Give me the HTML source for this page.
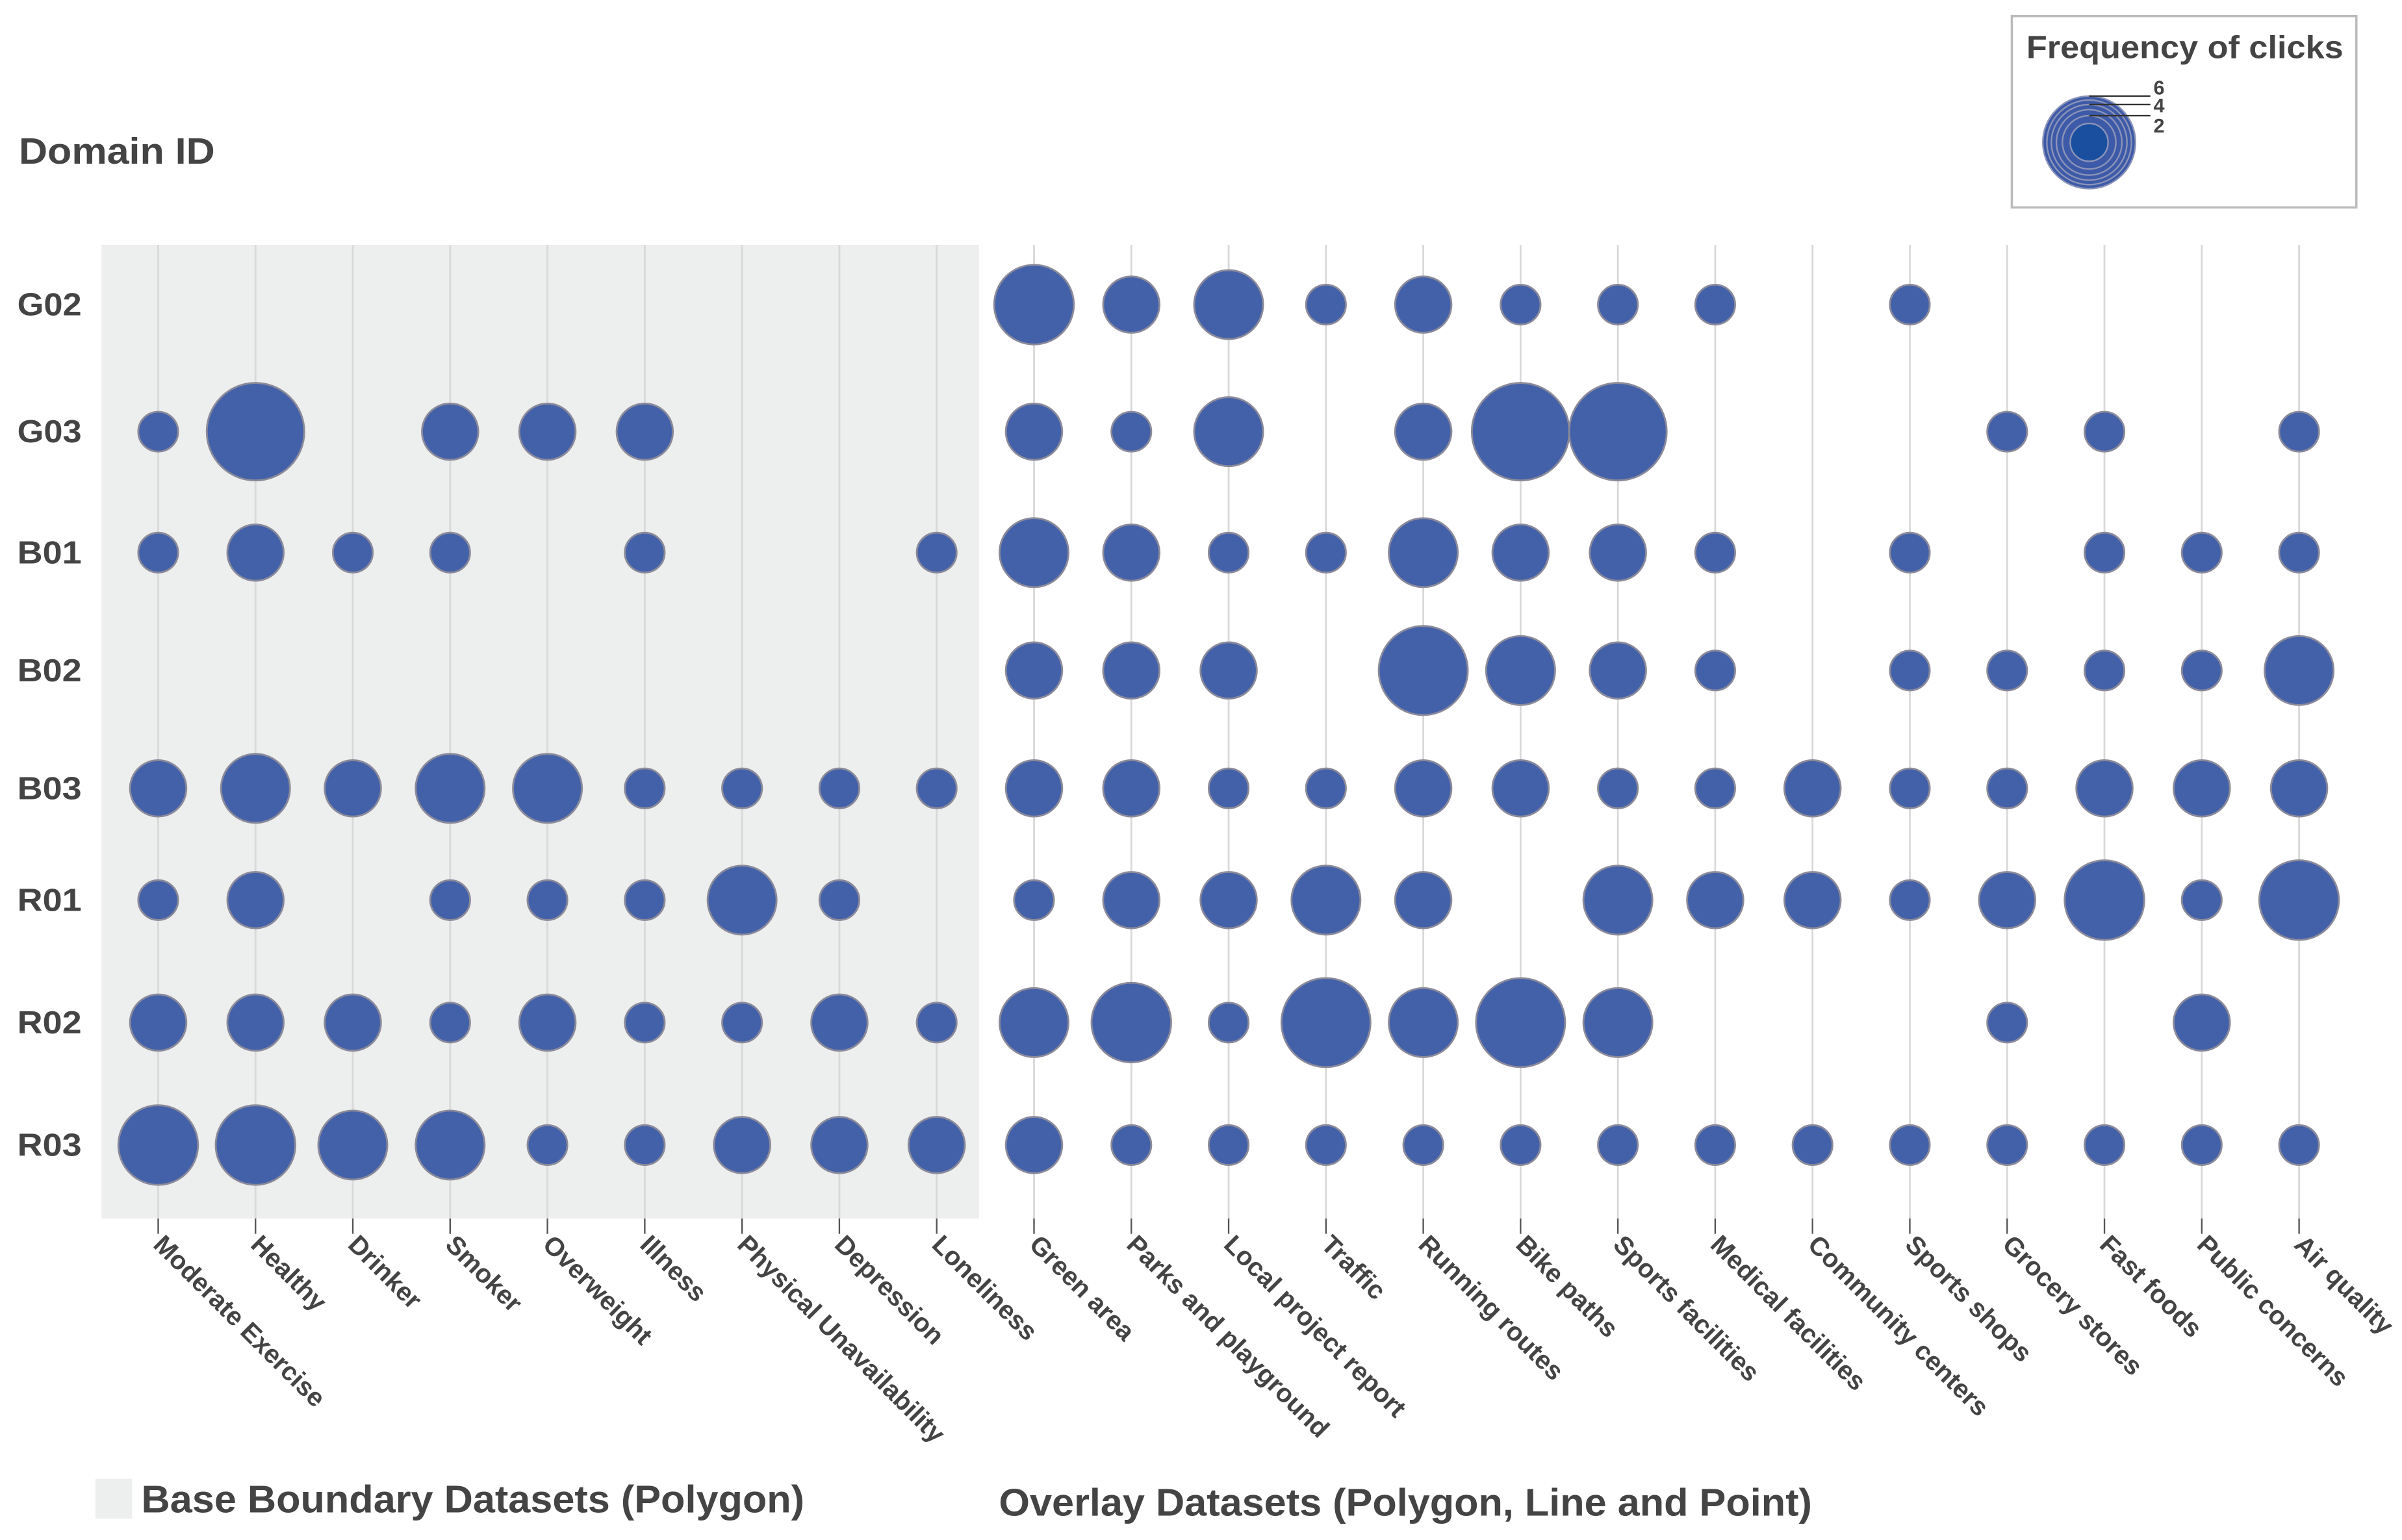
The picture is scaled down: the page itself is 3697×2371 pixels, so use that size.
<!DOCTYPE html>
<html><head><meta charset="utf-8"><style>
html,body{margin:0;padding:0;background:#fff;}
svg{display:block;}
text{font-family:"Liberation Sans",sans-serif;font-weight:bold;fill:#444;}
</style></head><body>
<svg id="chart" width="3697" height="2371" viewBox="0 0 1568 1006" xmlns="http://www.w3.org/2000/svg">
<rect x="66" y="160" width="573" height="636" fill="#edeeee"/>
<g id="grid"></g>
<g id="bubbles"></g>
<g id="xlabels"></g>
<g id="ylabels"></g>
<text x="12" y="107" font-size="24" textLength="128" lengthAdjust="spacingAndGlyphs">Domain ID</text>
<g>
<rect x="1313.5" y="10.5" width="225" height="125" fill="#fff" stroke="#bbb" stroke-width="1.5"/>
<text x="1323" y="38" font-size="21" textLength="207" lengthAdjust="spacingAndGlyphs">Frequency of clicks</text>
<g id="legendcircles"></g>
</g>
<rect x="62" y="966" width="24" height="26" fill="#edeeee"/>
<text x="92" y="988" font-size="25" textLength="433" lengthAdjust="spacingAndGlyphs">Base Boundary Datasets (Polygon)</text>
<text x="652" y="990" font-size="25" textLength="531" lengthAdjust="spacingAndGlyphs">Overlay Datasets (Polygon, Line and Point)</text>
</svg>
<script>
const categories=["Moderate Exercise","Healthy","Drinker","Smoker","Overweight","Illness","Physical Unavailability","Depression","Loneliness","Green area","Parks and playground","Local project report","Traffic","Running routes","Bike paths","Sports facilities","Medical facilities","Community centers","Sports shops","Grocery stores","Fast foods","Public concerns","Air quality"];
const domains=["G02","G03","B01","B02","B03","R01","R02","R03"];
const vG02=[0,0,0,0,0,0,0,0,0,4,2,3,1,2,1,1,1,0,1,0,0,0,0];
const vG03=[1,6,0,2,2,2,0,0,0,2,1,3,0,2,6,6,0,0,0,1,1,0,1];
const vB01=[1,2,1,1,0,1,0,0,1,3,2,1,1,3,2,2,1,0,1,0,1,1,1];
const vB02=[0,0,0,0,0,0,0,0,0,2,2,2,0,5,3,2,1,0,1,1,1,1,3];
const vB03=[2,3,2,3,3,1,1,1,1,2,2,1,1,2,2,1,1,2,1,1,2,2,2];
const vR01=[1,2,0,1,1,1,3,1,0,1,2,2,3,2,0,3,2,2,1,2,4,1,4];
const vR02=[2,2,2,1,2,1,1,2,1,3,4,1,5,3,5,3,0,0,0,1,0,2,0];
const vR03=[4,4,3,3,1,1,2,2,2,2,1,1,1,1,1,1,1,1,1,1,1,1,1];
const series=[vG02,vG03,vB01,vB02,vB03,vR01,vR02,vR03];
const legendValues=[6,5,4,3,2,1];
const legendTicks=[6,4,2];

const NS="http://www.w3.org/2000/svg";
const rowY=[199,282,361,438,515,588,668,748];
function xScale(i){return 103+i*63.55;}
function yScale(j){return rowY[j];}
function rScale(v){return 13*Math.sqrt(v);}
function mk(t,a){const e=document.createElementNS(NS,t);for(const k in a)e.setAttribute(k,a[k]);return e;}

const grid=document.getElementById('grid');
categories.forEach((c,i)=>{
  const x=xScale(i);
  const l=mk('line',{x1:x,x2:x,y1:160,y2:796,stroke:'#d9d9d9','stroke-width':1.2});
  
  
  grid.appendChild(l);
  const t=mk('line',{x1:x,x2:x,y1:796,y2:806,stroke:'#555','stroke-width':1});
  
  
  grid.appendChild(t);
});
const xl=document.getElementById('xlabels');
categories.forEach((c,i)=>{
  const x=xScale(i)-4,y=814;
  const t=mk('text',{x:x,y:y,'font-size':17,transform:`rotate(45 ${x} ${y})`});
  t.textContent=c;
  
  
  xl.appendChild(t);
});
const yl=document.getElementById('ylabels');
domains.forEach((d,j)=>{
  const t=mk('text',{x:11,y:yScale(j)+7,'font-size':21,textLength:42,lengthAdjust:'spacingAndGlyphs'});
  t.textContent=d;
  
  
  yl.appendChild(t);
});
const bg=document.getElementById('bubbles');
series.forEach((row,j)=>{
  row.forEach((v,i)=>{
    if(!v)return;
    const c=mk('circle',{cx:xScale(i),cy:yScale(j),r:rScale(v),fill:'#4361a9',stroke:'#8a8a9a','stroke-width':1.2});
    
    
    bg.appendChild(c);
  });
});
const lg=document.getElementById('legendcircles');
const lcx=1364,lcy=93;
legendValues.forEach(v=>{
  const c=mk('circle',{cx:lcx,cy:lcy,r:rScale(v)*0.95,fill:v===1?'#1a4fa0':'#3d5aa8',stroke:'#8c94b8','stroke-width':1});
  
  
  lg.appendChild(c);
});
legendTicks.forEach(v=>{
  const y=lcy-rScale(v)*0.95;
  const l=mk('line',{x1:lcx,x2:1404,y1:y,y2:y,stroke:'#333','stroke-width':1});
  
  
  lg.appendChild(l);
  const t=mk('text',{x:1406,y:y+(v===6?-1:v===4?5:11),'font-size':13});
  t.textContent=v;
  
  
  lg.appendChild(t);
});
</script>
</body></html>
